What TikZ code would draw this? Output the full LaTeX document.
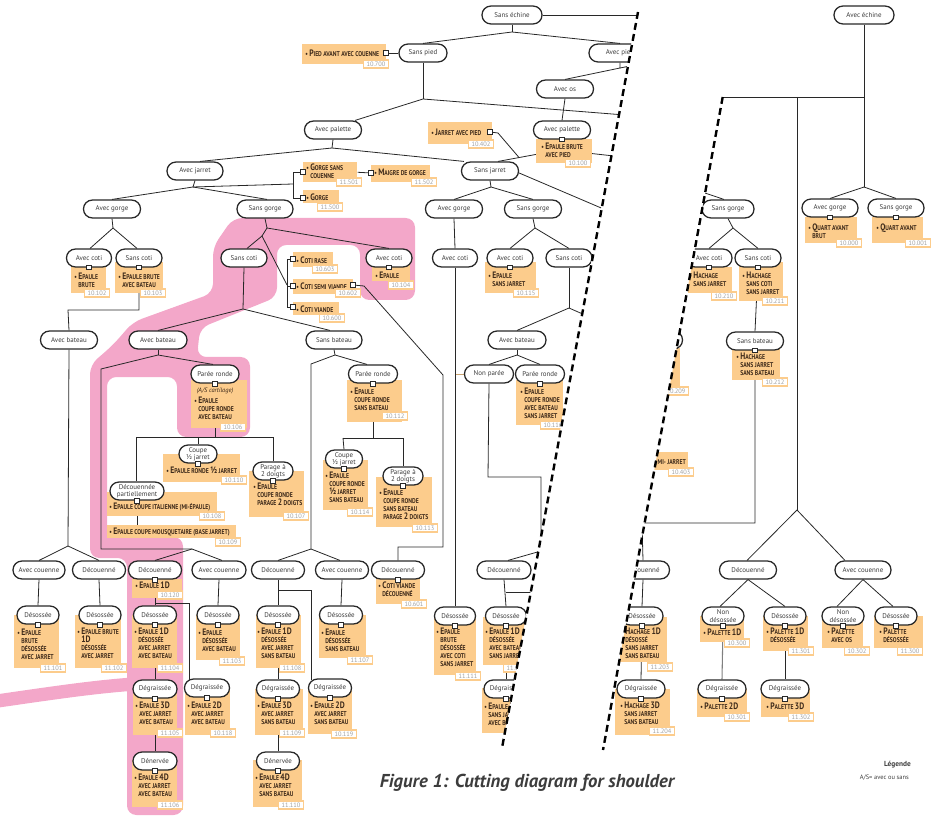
\documentclass[tikz,border=0pt]{standalone}
\usepackage{fontspec}
\setmainfont{PT Sans}
\newfontfamily\pf{PT Sans}[FakeStretch=0.82]
\usetikzlibrary{calc}
\pgfdeclarelayer{pinkl}\pgfdeclarelayer{bg}\pgfdeclarelayer{mid}
\pgfsetlayers{pinkl,bg,mid,main}
\definecolor{org}{RGB}{252,204,140}
\definecolor{pnk}{RGB}{243,167,201}
\definecolor{brn}{RGB}{62,42,26}
\definecolor{lbl}{RGB}{60,60,60}
\definecolor{gnum}{RGB}{160,160,160}
\definecolor{lin}{RGB}{40,40,40}
\newcommand\pB[1]{{\fontsize{7}{6}\selectfont #1}}
\newcommand\ind{\phantom{\textbullet\ }}
\newcommand\Ep{\pB{E}PAULE}
\newcommand\ov[5]{\node[oval, minimum width={#4*0.75pt}] (#1) at (#2,#3) {#5};}
\newcommand\pbx[5]{\node[pb, minimum width={(#4-#2)*0.75pt}, minimum height={(#5-#3)*0.75pt}] (#1) at (#2,#3) {};}
\newcommand\ptx[4]{\node[ptext] (#1) at (#2,#3-4.5) {#4};}
\newcommand\pto[4]{\node[ptext, anchor=west] (#1) at (#2,#3) {#4};}
\newcommand\nm[4]{\node[numbox] (#1) at (#2,#3) {#4};}
\newcommand\sq[2]{\node[sqr] (#1) at (#2) {};}
\newcommand\clipL{\clip (0,0) -- (639.2,0) -- (489.3,816) -- (0,816) -- cycle;}
\newcommand\clipR{\clip (740.6,0) -- (931,0) -- (931,816) -- (590.7,816) -- cycle;}
\begin{document}
\begin{tikzpicture}[x=0.75pt,y=-0.75pt,
 oval/.style={draw=lin, line width=0.95pt, fill=white, rounded corners=6.6pt, minimum height=13.4pt, inner sep=0pt, font=\fontsize{5.2}{5.5}\selectfont, text=lbl, align=center},
 link/.style={draw=lin, line width=0.6pt},
 pb/.style={fill=org, inner sep=0pt, anchor=north west},
 ptext/.style={inner sep=0pt, anchor=north west, align=left, text=brn, font=\pf\bfseries\fontsize{5.2}{6}\selectfont},
 numbox/.style={draw=org, line width=1pt, fill=white, inner sep=0pt, minimum width=18.5pt, minimum height=6pt, font=\fontsize{4.8}{5}\selectfont, text=gnum},
 sqr/.style={draw=lin, fill=white, line width=0.5pt, minimum size=3.4pt, inner sep=0pt},
 cut/.style={draw=black, line width=1.8pt, dash pattern=on 5.2pt off 3.2pt}]
\useasboundingbox (0,0) rectangle (931,816);
% ================= LEFT PART =================
\begin{scope}\clipL
\ov{o1}{512}{15}{60}{Sans échine}
\ov{o2}{423}{53}{48}{Sans pied}
\ov{o3}{620}{53}{62}{Avec pied}
\ov{o4}{565}{89}{57}{Avec os}
\ov{o5}{333}{130}{57}{Avec palette}
\ov{o6}{562}{130}{57}{Avec palette}
\ov{o7}{195}{171}{56}{Avec jarret}
\ov{o8}{490}{171}{57}{Sans jarret}
\ov{o9}{112}{209}{57}{Avec gorge}
\ov{o10}{265}{209}{56}{Sans gorge}
\ov{o11}{454}{209}{57}{Avec gorge}
\ov{o12}{533}{209}{57}{Sans gorge}
\ov{o13}{89}{258}{45}{Avec coti}
\ov{o14}{139}{258}{46}{Sans coti}
\ov{o15}{244}{258}{46}{Sans coti}
\ov{o16}{389}{258}{46}{Avec coti}
\ov{o17}{455}{258}{45}{Avec coti}
\ov{o18}{510}{258}{46}{Avec coti}
\ov{o19}{569}{258}{46}{Sans coti}
\ov{o20}{69}{340}{57}{Avec bateau}
\ov{o21}{158}{340}{58}{Avec bateau}
\ov{o22}{334}{340}{56}{Sans bateau}
\ov{o23}{517}{340}{58}{Avec bateau}
\ov{o24}{215}{374}{48}{Parée ronde}
\ov{o25}{373}{374}{49}{Parée ronde}
\ov{o26}{489}{374}{49}{Non parée}
\ov{o27}{540}{374}{49}{Parée ronde}
\ov{o28}{198}{454}{38}{Coupe\\½ jarret}
\ov{o29}{273}{471}{40}{Parage à\\2 doigts}
\ov{o30}{137}{491}{54}{Découennée\\partiellement}
\ov{o31}{344}{459}{37}{Coupe\\½ jarret}
\ov{o32}{403}{476}{40}{Parage à\\2 doigts}
\ov{o33}{39}{570}{52}{Avec couenne}
\ov{o34}{99}{570}{53}{Découenné}
\ov{o35}{155}{570}{53}{Découenné}
\ov{o36}{219}{570}{54}{Avec couenne}
\ov{o37}{278}{570}{53}{Découenné}
\ov{o38}{342}{570}{53}{Avec couenne}
\ov{o39}{398}{570}{53}{Découenné}
\ov{o40}{504}{570}{54}{Découenné}
\ov{o41}{38}{615}{42}{Désossée}
\ov{o42}{100}{615}{42}{Désossée}
\ov{o43}{155}{615}{43}{Désossée}
\ov{o44}{218}{615}{42}{Désossée}
\ov{o45}{278}{615}{42}{Désossée}
\ov{o46}{341}{615}{43}{Désossée}
\ov{o47}{455}{616}{41}{Désossée}
\ov{o48}{506}{616}{41}{Désossée}
\ov{o49}{155}{689}{44}{Dégraissée}
\ov{o50}{207}{688}{45}{Dégraissée}
\ov{o51}{278}{689}{43}{Dégraissée}
\ov{o52}{330}{688}{43}{Dégraissée}
\ov{o53}{506}{689}{44}{Dégraissée}
\ov{o54}{155}{761}{44}{Dénervée}
\ov{o55}{278}{761}{43}{Dénervée}
% squares
\sq{s1}{386,53}
\sq{s2}{490,132}
\sq{s3}{o6.south}
\sq{s4}{303,172}
\sq{s5}{371,173}
\sq{s6}{303,198}
\sq{s7}{o13.south}
\sq{s8}{o14.south}
\sq{s9}{293,259}
\sq{s10}{293,286}
\sq{s10r}{353,285}
\sq{s11}{293,307}
\sq{s12}{o16.south}
\sq{s13}{o18.south}
\sq{s14}{o24.south}
\sq{s15}{o25.south}
\sq{s16}{o27.south}
\sq{s17}{o28.south}
\sq{s18}{o29.south}
\sq{s19}{o30.south}
\sq{s21}{o31.south}
\sq{s22}{o32.south}
\sq{s23}{o35.south}
\sq{s24}{o41.south}
\sq{s25}{o42.south}
\sq{s26}{o43.south}
\sq{s27}{o44.south}
\sq{s31}{o45.south}
\sq{s35}{o46.south}
\sq{s36}{o39.south}
\sq{s37}{o47.south}
\sq{s38}{o48.south}
\sq{s28}{o49.south}
\sq{s29}{o50.south}
\sq{s32}{o51.south}
\sq{s34}{o52.south}
\sq{s39}{o53.south}
\sq{s30}{o54.south}
\sq{s33}{o55.south}
% numbers
\nm{n1}{376}{64}{10.700}
\nm{n2}{481}{144}{10.402}
\nm{n3}{578}{163}{10.100}
\nm{n4}{349}{182}{11.501}
\nm{n5}{424}{182}{11.502}
\nm{n6}{330}{207}{11.500}
\nm{n7}{97}{293}{10.102}
\nm{n8}{153}{293}{10.103}
\nm{n9}{325}{269}{10.603}
\nm{n10}{348}{293}{10.602}
\nm{n11}{332}{318}{10.600}
\nm{n12}{401}{285}{10.104}
\nm{n13}{526}{293}{10.115}
\nm{n14}{233}{427}{10.106}
\nm{n15}{395}{416}{10.112}
\nm{n16}{553}{425}{10.116}
\nm{n17}{234}{480}{10.110}
\nm{n18}{296}{516}{10.107}
\nm{n19}{212}{516}{10.108}
\nm{n20}{228}{542}{10.109}
\nm{n21}{360}{512}{10.114}
\nm{n22}{425}{528}{10.113}
\nm{n23}{170}{595}{10.120}
\nm{n24}{53}{668}{11.101}
\nm{n25}{114}{668}{11.102}
\nm{n26}{170}{668}{11.104}
\nm{n27}{232}{661}{11.103}
\nm{n28}{170}{733}{11.105}
\nm{n29}{223}{733}{10.118}
\nm{n30}{170}{805}{11.106}
\nm{n31}{292}{668}{11.108}
\nm{n32}{292}{733}{11.109}
\nm{n33}{291}{805}{11.110}
\nm{n34}{344}{734}{10.119}
\nm{n35}{360}{660}{11.107}
\nm{n36}{414}{604}{10.601}
\nm{n37}{468}{676}{11.111}
\nm{n38}{516}{668}{11.112}
\end{scope}
\begin{pgfonlayer}{mid}\begin{scope}\clipL
\pbx{p1}{302}{44}{386}{64}
\pbx{p2}{428}{122}{492}{144}
\pbx{p3}{536}{139}{592}{163}
\pbx{p4}{303}{162}{357}{182}
\pbx{p5}{371}{165}{430}{182}
\pbx{p6}{303}{190}{339}{203}
\pbx{p7}{71}{265}{106}{293}
\pbx{p8}{115}{262}{163}{293}
\pbx{p9}{293}{252}{333}{267}
\pbx{p10}{293}{279}{353}{294}
\pbx{p11}{293}{302}{339}{315}
\pbx{p12}{372}{265}{410}{281}
\pbx{p13}{485}{262}{536}{293}
\pbx{p14}{191}{380}{247}{428}
\pbx{p15}{347}{380}{402}{422}
\pbx{p16}{516}{380}{563}{425}
\pbx{p17}{163}{454}{240}{482}
\pbx{p18}{249}{471}{304}{517}
\pbx{p19}{107}{492}{217}{516}
\pbx{p20}{107}{525}{236}{538}
\pbx{p21}{323}{460}{368}{510}
\pbx{p22}{376}{477}{432}{527}
\pbx{p23}{132}{579}{182}{598}
\pbx{p24}{14}{615}{59}{668}
\pbx{p25}{75}{615}{121}{668}
\pbx{p26}{132}{615}{177}{668}
\pbx{p27}{196}{615}{240}{660}
\pbx{p28}{133}{689}{177}{735}
\pbx{p29}{185}{689}{230}{735}
\pbx{p30}{132}{760}{177}{807}
\pbx{p31}{256}{615}{301}{668}
\pbx{p32}{255}{689}{303}{735}
\pbx{p33}{253}{760}{302}{807}
\pbx{p34}{308}{689}{352}{734}
\pbx{p35}{319}{615}{366}{658}
\pbx{p36}{376}{579}{420}{604}
\pbx{p37}{434}{617}{476}{675}
\pbx{p38}{483}{617}{528}{665}
\pbx{p39}{482}{688}{527}{733}
\pto{t1}{305}{53}{\textbullet\ \pB{P}IED AVANT AVEC COUENNE}
\pto{t2}{431}{132}{\textbullet\ \pB{J}ARRET AVEC PIED}
\ptx{t3}{541}{147}{\textbullet\ \Ep{} BRUTE\\\ind AVEC PIED}
\ptx{t4}{306}{168}{\textbullet\ \pB{G}ORGE SANS\\\ind COUENNE}
\pto{t5}{374}{172}{\textbullet\ \pB{M}AIGRE DE GORGE}
\pto{t6}{306}{197}{\textbullet\ \pB{G}ORGE}
\ptx{t7}{74}{277}{\textbullet\ \Ep\\\ind BRUTE}
\ptx{t8}{118}{277}{\textbullet\ \Ep{} BRUTE\\\ind AVEC BATEAU}
\pto{t9}{296}{260}{\textbullet\ \pB{C}OTI RASE}
\pto{t10}{296}{286}{\textbullet\ \pB{C}OTI SEMI VIANDE}
\pto{t11}{296}{309}{\textbullet\ \pB{C}OTI VIANDE}
\pto{t12}{375}{275}{\textbullet\ \Ep}
\ptx{t13}{488}{276}{\textbullet\ \Ep\\\ind SANS JARRET}
\node[inner sep=0pt, text=brn, font=\itshape\fontsize{4.8}{5}\selectfont] (t14a) at (215,391) {(A/S cartilage)};
\ptx{t14}{194}{401}{\textbullet\ \Ep\\\ind COUPE RONDE\\\ind AVEC BATEAU}
\ptx{t15}{350}{392}{\textbullet\ \Ep\\\ind COUPE RONDE\\\ind SANS BATEAU}
\ptx{t16}{520}{392}{\textbullet\ \Ep\\\ind COUPE RONDE\\\ind AVEC BATEAU\\\ind SANS JARRET}
\pto{t17}{166}{470}{\textbullet\ \Ep{} RONDE \pB{½} JARRET}
\ptx{t18}{253}{487}{\textbullet\ \Ep\\\ind COUPE RONDE\\\ind PARAGE \pB{2} DOIGTS}
\pto{t19}{109}{507}{\textbullet\ \Ep{} COUPE ITALIENNE (MI-ÉPAULE)}
\pto{t20}{109}{532}{\textbullet\ \Ep{} COUPE MOUSQUETAIRE (BASE JARRET)}
\ptx{t21}{325}{476}{\textbullet\ \Ep\\\ind COUPE RONDE\\\ind \pB{½} JARRET\\\ind SANS BATEAU}
\ptx{t22}{379}{493}{\textbullet\ \Ep\\\ind COUPE RONDE\\\ind SANS BATEAU\\\ind PARAGE \pB{2} DOIGTS}
\pto{t23}{135}{585}{\textbullet\ \Ep{} \pB{1D}}
\ptx{t24}{17}{633}{\textbullet\ \Ep\\\ind BRUTE\\\ind DÉSOSSÉE\\\ind AVEC JARRET}
\ptx{t25}{77}{632}{\textbullet\ \Ep{} BRUTE\\\ind \pB{1D}\\\ind DÉSOSSÉE\\\ind AVEC JARRET}
\ptx{t26}{134}{632}{\textbullet\ \Ep{} \pB{1D}\\\ind DÉSOSSÉE\\\ind AVEC JARRET\\\ind AVEC BATEAU}
\ptx{t27}{198}{633}{\textbullet\ \Ep\\\ind DÉSOSSÉE\\\ind AVEC BATEAU}
\ptx{t28}{135}{706}{\textbullet\ \Ep{} \pB{3D}\\\ind AVEC JARRET\\\ind AVEC BATEAU}
\ptx{t29}{187}{706}{\textbullet\ \Ep{} \pB{2D}\\\ind AVEC JARRET\\\ind AVEC BATEAU}
\ptx{t30}{134}{778}{\textbullet\ \Ep{} \pB{4D}\\\ind AVEC JARRET\\\ind AVEC BATEAU}
\ptx{t31}{257}{632}{\textbullet\ \Ep{} \pB{1D}\\\ind DÉSOSSÉE\\\ind AVEC JARRET\\\ind SANS BATEAU}
\ptx{t32}{257}{706}{\textbullet\ \Ep{} \pB{3D}\\\ind AVEC JARRET\\\ind SANS BATEAU}
\ptx{t33}{255}{778}{\textbullet\ \Ep{} \pB{4D}\\\ind AVEC JARRET\\\ind SANS BATEAU}
\ptx{t34}{310}{706}{\textbullet\ \Ep{} \pB{2D}\\\ind AVEC JARRET\\\ind SANS BATEAU}
\ptx{t35}{321}{633}{\textbullet\ \Ep\\\ind DÉSOSSÉE\\\ind SANS BATEAU}
\ptx{t36}{378}{586}{\textbullet\ \pB{C}OTI VIANDE\\\ind DÉCOUENNÉ}
\ptx{t37}{436}{632}{\textbullet\ \Ep\\\ind BRUTE\\\ind DÉSOSSÉE\\\ind AVEC COTI\\\ind SANS JARRET}
\ptx{t38}{485}{632}{\textbullet\ \Ep{} \pB{1D}\\\ind DÉSOSSÉE\\\ind AVEC BATEAU\\\ind SANS JARRET}
\ptx{t39}{484}{707}{\textbullet\ \Ep{} \pB{3D}\\\ind SANS JARRET\\\ind AVEC BATEAU}
\end{scope}\end{pgfonlayer}
\begin{pgfonlayer}{bg}\begin{scope}\clipL
\draw[link] (o1.east) -- (660,15);
\draw[link] (o1.south) -- (512,32) coordinate (j1);
\draw[link] (j1) -- (o2.north);
\draw[link] (j1) -- (o3.north);
\draw[link] (s1) -- (o2.west);
\draw[link] (o2.south) -- (423,99) coordinate (j2);
\draw[link] (j2) -- ($(o5.north)+(22,0)$);
\draw[link] (j2) -- (650,117);
\draw[link] (o3.south) -- (620,68) coordinate (j3) -- (o4.north);
\draw[link] (j3) -- (645,63);
\draw[link] (o4.south) -- (o6.north);
\draw[link] (s3) -- (560,150) coordinate (jp);
\draw[link] (jp) -- ($(o8.north)+(8,0)$);
\draw[link] (jp) -- (650,160);
\draw[link] (s2) -- (498,133) -- (519,157.5);
\draw[link] (o5.south) -- (332,148) coordinate (j5);
\draw[link] (j5) -- ($(o7.north)+(5,0)$);
\draw[link] (j5) -- ($(o8.north)+(-26,0)$);
\draw[link] ($(o8.east)+(0,2)$) -- (620,216);
\draw[link] (o7.south) -- (193,187) coordinate (j7);
\draw[link] (j7) -- (o9.north);
\draw[link] (j7) -- ($(o10.north)+(2,0)$);
\draw[link] (j7) -- (293,184);
\draw[link] (s4) -- (293,172) -- (293,198) -- (s6);
\draw[link] (p4.east) -- (s5);
\draw[link] (o9.south) -- (113,228) coordinate (j9);
\draw[link] (j9) -- ($(o13.north)+(1,0)$);
\draw[link] (j9) -- ($(o14.north)+(-2,0)$);
\draw[link] (s8) -- (139,310) -- (68,310) -- (o20.north);
\draw[link] (o10.south) -- (267,228) coordinate (j10);
\draw[link] (j10) -- (262,236) coordinate (j10b);
\draw[link] (j10b) -- ($(o15.north)+(3,0)$);
\draw[link] (j10b) -- (287,285);
\draw[link] (j10) -- (o16.north);
\draw[link] (s9) -- (287,259) -- (287,307) -- (s11);
\draw[link] (287,286) -- (s10);
\draw[link] (s10r) -- (364,286) -- (443,375) -- (443,547) -- (398,547) -- (o39.north);
\draw[link] (o15.south) -- (243,309) coordinate (j15);
\draw[link] (j15) -- (o21.north);
\draw[link] (j15) -- ($(o22.north)+(-4,0)$);
\draw[link] (o20.south) -- (68,546) coordinate (j20);
\draw[link] (j20) -- (o33.north);
\draw[link] (j20) -- (o34.north);
\draw[link] (o21.south) -- (158,355) coordinate (j21);
\draw[link] (j21) -- (101,369) -- (101,549) -- (192,549) coordinate (j21b);
\draw[link] (j21b) -- (o35.north);
\draw[link] (j21b) -- ($(o36.north)+(3,0)$);
\draw[link] (j21) -- ($(o24.north)+(-2,0)$);
\draw[link] (s14) -- (215,437);
\draw[link] (136,437) -- (273,437);
\draw[link] (198,437) -- (o28.north);
\draw[link] (273,437) -- (o29.north);
\draw[link] (136,437) -- ($(o30.north)+(-1,0)$);
\draw[link] (s19) -- (137,525);
\draw[link] (o22.south) -- (335,355) coordinate (j22);
\draw[link] (j22) -- (311,364) -- (311,549) coordinate (j22b);
\draw[link] (j22b) -- (o37.north);
\draw[link] (j22b) -- ($(o38.north)+(-2,0)$);
\draw[link] (j22) -- ($(o25.north)+(-6,0)$);
\draw[link] (s15) -- (373,438);
\draw[link] (343,438) -- (403,438);
\draw[link] (343,438) -- (o31.north);
\draw[link] (403,438) -- (o32.north);
\draw[link] (o8.south) -- (491,187) coordinate (j8);
\draw[link] (j8) -- (o11.north);
\draw[link] (j8) -- (o12.north);
\draw[link] (o11.south) -- (o17.north);
\draw[link] (o17.south) -- (o47.north);
\draw[draw=org!80!black, line width=0.6pt] (456,374) -- (o26.west);
\draw[link] (o12.south) -- (535,228) coordinate (j12);
\draw[link] (j12) -- (o18.north);
\draw[link] (j12) -- (o19.north);
\draw[link] (o19.south) -- (569,308) coordinate (j19);
\draw[link] (j19) -- (o23.north);
\draw[link] (j19) -- (610,326);
\draw[link] (o23.south) -- (517,355) coordinate (j23);
\draw[link] (j23) -- (o26.north);
\draw[link] (j23) -- (o27.north);
\draw[link] (o26.south) -- (488,477) -- (541,477) -- (541,551) coordinate (j26) -- ($(o40.north)+(4,0)$);
\draw[link] (o40.south) -- (o48.north);
\draw[link] (506,592) -- (550,592);
\draw[link] (s38) -- (o53.north);
\draw[link] (o33.south) -- (o41.north);
\draw[link] (o34.south) -- (o42.north);
\draw[link] (s23) -- (o43.north);
\draw[link] (155,603) -- (189,603) -- (189,680);
\draw[link] (s26) -- (o49.north);
\draw[link] (s28) -- (o54.north);
\draw[link] (o36.south) -- (o44.north);
\draw[link] (o37.south) -- (o45.north);
\draw[link] (278,590) -- (311,590) -- (311,680);
\draw[link] (s31) -- (o51.north);
\draw[link] (s32) -- (o55.north);
\draw[link] (o38.south) -- (o46.north);
\end{scope}\end{pgfonlayer}
\begin{pgfonlayer}{pinkl}\begin{scope}\clipL
\fill[pnk, rounded corners=7pt] (233,218) -- (415,218) -- (415,300) -- (360,300) -- (360,245) -- (277,245) -- (277,297) -- (200,328) -- (197,357) -- (250,357) -- (250,437) -- (177,437) -- (177,377) -- (107,377) -- (107,537) -- (183,537) -- (183,815) -- (127,815) -- (127,558) -- (90,558) -- (90,365) -- (113,345) -- (133,322) -- (213,293) -- (213,247) -- cycle;
\draw[pnk, line width=10pt] (-10,702) .. controls (40,695) and (90,687) .. (135,684);
\end{scope}\end{pgfonlayer}
% ================= RIGHT PART =================
\begin{scope}\clipR
\ov{r1}{864}{15}{60}{Avec échine}
\ov{r2}{728}{209}{52}{Sans gorge}
\ov{r3}{709}{258}{46}{Avec coti}
\ov{r4}{758}{258}{46}{Sans coti}
\ov{r5}{755}{341}{57}{Sans bateau}
\ov{r6}{830}{208}{56}{Avec gorge}
\ov{r7}{896}{208}{56}{Sans gorge}
\ov{r8}{748}{570}{57}{Découenné}
\ov{r9}{863}{570}{56}{Avec couenne}
\ov{r10}{723}{616}{42}{Non\\désossée}
\ov{r11}{785}{616}{42}{Désossée}
\ov{r12}{843}{616}{42}{Non\\désossée}
\ov{r13}{896}{616}{42}{Désossée}
\ov{r14}{722}{689}{48}{Dégraissée}
\ov{r15}{785}{689}{48}{Dégraissée}
\ov{r16}{643}{570}{53}{Découenné}
\ov{r17}{642}{616}{42}{Désossée}
\ov{r18}{641}{689}{48}{Dégraissée}
\ov{r19}{654}{340}{57}{Sans bateau}
\sq{u3}{r3.south}
\sq{u4}{r4.south}
\sq{u5}{r5.south}
\sq{u6}{r6.south}
\sq{u7}{r7.south}
\sq{u10}{r10.south}
\sq{u11}{r11.south}
\sq{u12}{r12.south}
\sq{u13}{r13.south}
\sq{u14}{r14.south}
\sq{u15}{r15.south}
\sq{u17}{r17.south}
\sq{u18}{r18.south}
\nm{m1}{724}{296}{10.210}
\nm{m2}{775}{301}{10.211}
\nm{m3}{775}{382}{10.212}
\nm{m4}{849}{243}{10.000}
\nm{m5}{918}{243}{10.001}
\nm{m6}{660}{667}{11.203}
\nm{m7}{662}{731}{11.204}
\nm{m8}{737}{643}{10.300}
\nm{m9}{737}{717}{10.301}
\nm{m10}{801}{651}{11.301}
\nm{m11}{801}{717}{11.302}
\nm{m12}{857}{651}{10.302}
\nm{m13}{910}{651}{11.300}
\nm{m14}{676}{391}{10.209}
\nm{m15}{681}{472}{10.403}
\end{scope}
\begin{pgfonlayer}{mid}\begin{scope}\clipR
\pbx{q1}{688}{267}{732}{293}
\pbx{q2}{739}{262}{783}{301}
\pbx{q3}{732}{349}{780}{380}
\pbx{q4}{805}{217}{857}{243}
\pbx{q5}{872}{217}{923}{243}
\pbx{q6}{620}{617}{667}{662}
\pbx{q7}{615}{689}{670}{735}
\pbx{q8}{700}{616}{744}{642}
\pbx{q9}{697}{689}{747}{717}
\pbx{q10}{763}{616}{808}{651}
\pbx{q11}{761}{689}{810}{717}
\pbx{q12}{822}{616}{863}{648}
\pbx{q13}{874}{616}{923}{648}
\pbx{q14}{630}{348}{680}{395}
\pbx{q15}{620}{452}{688}{470}
\ptx{v1}{689}{276}{\textbullet\ \pB{H}ACHAGE\\\ind SANS JARRET}
\ptx{v2}{742}{276}{\textbullet\ \pB{H}ACHAGE\\\ind SANS COTI\\\ind SANS JARRET}
\ptx{v3}{736}{357}{\textbullet\ \pB{H}ACHAGE\\\ind SANS JARRET\\\ind SANS BATEAU}
\ptx{v4}{808}{228}{\textbullet\ \pB{Q}UART AVANT\\\ind BRUT}
\pto{v5}{876}{228}{\textbullet\ \pB{Q}UART AVANT}
\ptx{v6}{621}{632}{\textbullet\ \pB{H}ACHAGE \pB{1D}\\\ind DÉSOSSÉ\\\ind SANS JARRET\\\ind SANS BATEAU}
\ptx{v7}{620}{706}{\textbullet\ \pB{H}ACHAGE \pB{3D}\\\ind SANS JARRET\\\ind SANS BATEAU}
\pto{v8}{703}{632}{\textbullet\ \pB{P}ALETTE \pB{1D}}
\pto{v9}{700}{706}{\textbullet\ \pB{P}ALETTE \pB{2D}}
\ptx{v10}{766}{632}{\textbullet\ \pB{P}ALETTE \pB{1D}\\\ind DÉSOSSÉE}
\pto{v11}{766}{706}{\textbullet\ \pB{P}ALETTE \pB{3D}}
\ptx{v12}{827}{632}{\textbullet\ \pB{P}ALETTE\\\ind AVEC OS}
\ptx{v13}{879}{632}{\textbullet\ \pB{P}ALETTE\\\ind DÉSOSSÉE}
\node[ptext, anchor=east] (v15) at (686,461) {\textbullet\ \Ep{} MI- JARRET};
\end{scope}\end{pgfonlayer}
\begin{pgfonlayer}{bg}\begin{scope}\clipR
\draw[link] (r1.south) -- (864,97) coordinate (jt);
\draw[link] (jt) -- (700,97);
\draw[link] (797,97) -- (797,510) coordinate (jr);
\draw[link] (jt) -- (864,187) coordinate (jq);
\draw[link] (jq) -- (r6.north);
\draw[link] (jq) -- (r7.north);
\draw[link] (690,188) -- ($(r2.north)+(-4,0)$);
\draw[link] (r2.south) -- (733,228) coordinate (jr2);
\draw[link] (jr2) -- (r3.north);
\draw[link] (jr2) -- (r4.north);
\draw[link] (u4) -- (r5.north);
\draw[link] (u5) -- (755,523) -- (642,523) -- (r16.north);
\draw[link] (r16.south) -- (r17.north);
\draw[link] (u17) -- (r18.north);
\draw[link] (jr) -- ($(r8.north)+(-1,0)$);
\draw[link] (jr) -- ($(r9.north)+(-18,0)$);
\draw[link] (r8.south) -- ($(r10.north)+(-3,0)$);
\draw[link] (r8.south) -- (r11.north);
\draw[link] (r9.south) -- ($(r12.north)+(-6,0)$);
\draw[link] (r9.south) -- ($(r13.north)+(-3,0)$);
\draw[draw=gray, line width=0.8pt] (u10) -- (r14.north);
\draw[link] (u11) -- (r15.north);
\end{scope}\end{pgfonlayer}
% ================= CUT LINES, TITLE, LEGEND =================
\draw[cut] (638,12) -- (502,748);
\draw[cut] (722.7,97) -- (603,750);
\node[font=\bfseries\itshape\fontsize{14}{16}\selectfont, text=lbl] (title) at (527,783) {Figure 1: Cutting diagram for shoulder};
\node[anchor=east, inner sep=0pt, font=\bfseries\fontsize{5.5}{6}\selectfont, text=lbl] (leg1) at (911,765) {Légende};
\node[anchor=east, inner sep=0pt, font=\fontsize{4.8}{5}\selectfont, text=lbl] (leg2) at (909,778) {A/S= avec ou sans};
\end{tikzpicture}
\end{document}
